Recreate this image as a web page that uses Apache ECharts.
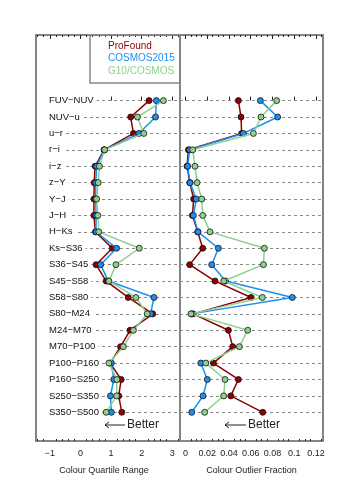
<!DOCTYPE html>
<html><head><meta charset="utf-8">
<script src="https://cdn.jsdelivr.net/npm/echarts@6/dist/echarts.min.js"></script>
<style>html,body{margin:0;padding:0;background:#fff}#c{width:360px;height:480px}</style>
</head><body><div id="c"></div>
<script>
const rowLabels = ['FUV\u2212NUV','NUV\u2212u','u\u2212r','r\u2212i','i\u2212z','z\u2212Y','Y\u2212J','J\u2212H','H\u2212Ks','Ks\u2212S36','S36\u2212S45','S45\u2212S58','S58\u2212S80','S80\u2212M24','M24\u2212M70','M70\u2212P100','P100\u2212P160','P160\u2212S250','S250\u2212S350','S350\u2212S500'];
const rowIdx = [0,1,2,3,4,5,6,7,8,9,10,11,12,13,14,15,16,17,18,19];

const seriesNames = ['ProFound','COSMOS2015','G10/COSMOS'];
const profoundQR = [2.24,1.64,1.73,0.77,0.48,0.45,0.44,0.44,0.49,1.04,0.51,0.84,1.56,2.36,1.62,1.31,0.97,1.33,1.25,1.35];
const cosmosQR   = [2.48,2.45,1.91,0.78,0.53,0.50,0.50,0.51,0.51,1.18,0.66,0.91,2.40,2.29,null,null,1.01,1.09,0.98,1.01];
const g10QR      = [2.71,1.86,2.07,0.79,0.62,0.58,0.53,0.57,0.60,1.92,1.16,0.93,1.81,2.18,1.73,1.40,0.93,1.19,1.18,0.84];

const profoundOF = [0.0487,0.0511,0.0517,0.0027,0.0015,0.0040,0.0076,0.0064,0.0113,0.0159,0.0039,0.0272,0.0603,0.0070,0.0395,0.0435,0.0257,0.0487,0.0417,0.0711];
const cosmosOF   = [0.0689,0.0848,0.0533,0.0039,0.0021,0.0042,0.0100,0.0073,0.0116,0.0303,0.0242,0.0370,0.0983,0.0055,null,null,0.0141,0.0201,0.0162,0.0058];
const g10OF      = [0.0839,0.0695,0.0625,0.0067,0.0088,0.0107,0.0150,0.0159,0.0226,0.0726,0.0717,0.0352,0.0707,0.0051,0.0573,0.0496,0.0187,0.0364,0.0352,0.0177];

const qrMajorTicks = [-1,0,1,2,3];
const qrMinorTicks = [-1.4,-1.2,-0.8,-0.6,-0.4,-0.2,0.2,0.4,0.6,0.8,1.2,1.4,1.6,1.8,2.2,2.4,2.6,2.8,3.2];
const ofMajorTicks = [0,0.02,0.04,0.06,0.08,0.1,0.12];
const ofMinorTicks = [0.005,0.01,0.015,0.025,0.03,0.035,0.045,0.05,0.055,0.065,0.07,0.075,0.085,0.09,0.095,0.105,0.11,0.115,0.125];

const colors = ['#8B0000','#1E8FF0','#8FD08F'];
const FONT = 'Liberation Sans';
const FRAME = '#858585';

function xAxes(grid, min, max, majors, minors, name, namePad) {
  const base = {gridIndex:grid, type:'value', min:min, max:max, axisLine:{show:false}, splitLine:{show:false}};
  return [
    Object.assign({}, base, {position:'bottom',
      axisTick:{show:true, inside:true, length:4, customValues:majors, lineStyle:{color:'#222', width:1}},
      axisLabel:{show:true, customValues:majors, margin:8, fontSize:9, color:'#222', fontFamily:FONT,
        formatter: v => String(v).replace('-', '\u2212')},
      name:name, nameLocation:'middle', nameGap:25,
      nameTextStyle:{fontSize:9, color:'#222', fontFamily:FONT, padding:namePad}}),
    Object.assign({}, base, {position:'bottom',
      axisTick:{show:true, inside:true, length:2, customValues:minors, lineStyle:{color:'#222', width:1}},
      axisLabel:{show:false}}),
    Object.assign({}, base, {position:'top',
      axisTick:{show:true, inside:true, length:4, customValues:majors, lineStyle:{color:'#222', width:1}},
      axisLabel:{show:false}}),
    Object.assign({}, base, {position:'top',
      axisTick:{show:true, inside:true, length:2, customValues:minors, lineStyle:{color:'#222', width:1}},
      axisLabel:{show:false}})
  ];
}

function yAxis(grid, labels) {
  return {gridIndex:grid, type:'value', min:-4, max:20.75, inverse:true, z:3,
    axisLine:{show:false}, axisTick:{show:false}, splitLine:{show:false},
    axisLabel: labels ? {show:true, inside:true, margin:1, customValues:rowIdx,
      formatter: v => rowLabels[v] || '', fontSize:9.5, color:'#111', fontFamily:FONT,
      backgroundColor:'#fff', padding:[2,3,2,12]} : {show:false}};
}

function dataSeries(name, vals, color, xi, yi, z) {
  return {name:name, type:'line', xAxisIndex:xi, yAxisIndex:yi, z:z,
    data: vals.map((v,i) => [v === null ? '-' : v, rowIdx[i]]),
    connectNulls:false, symbol:'circle', symbolSize:6, showSymbol:true,
    lineStyle:{color:color, width:1.5}, itemStyle:{color:color, borderColor:'#111', borderWidth:0.8},
    emphasis:{disabled:true}};
}

function guideSeries(xi, yi) {
  return {type:'line', xAxisIndex:xi, yAxisIndex:yi, data:[], z:1, silent:true,
    markLine:{silent:true, symbol:'none', z:1, label:{show:false},
      lineStyle:{color:'#8a8a8a', type:[3,3], width:1},
      data: rowIdx.map(i => ({yAxis:i}))}};
}

const chart = echarts.init(document.getElementById('c'), null, {renderer:'canvas'});
chart.setOption({
  animation:false,
  backgroundColor:'#ffffff',
  grid:[
    {left:36, top:35, width:144, height:406, show:true, borderColor:FRAME, borderWidth:2, backgroundColor:'transparent'},
    {left:180, top:35, width:143, height:406, show:true, borderColor:FRAME, borderWidth:2, backgroundColor:'transparent'}
  ],
  xAxis: xAxes(0, -1.45, 3.25, qrMajorTicks, qrMinorTicks, 'Colour Quartile Range', [0,8,0,0])
    .concat(xAxes(1, -0.005, 0.1265, ofMajorTicks, ofMinorTicks, 'Colour Outlier Fraction', [0,0,0,0])),
  yAxis:[yAxis(0, true), yAxis(1, false)],
  legend:{orient:'vertical', left:103, top:41, padding:0, itemWidth:0, itemHeight:10, itemGap:2.5,
    icon:'none', selectedMode:false,
    textStyle:{fontSize:10, fontFamily:FONT},
    data: seriesNames.map((n,i) => ({name:n, icon:'none', textStyle:{color:colors[i]}}))},
  graphic:[
    {type:'rect', shape:{x:90, y:35, width:90, height:48}, style:{fill:'none', stroke:FRAME, lineWidth:1.5}, z:10},
    {type:'polyline', shape:{points:[[125,425],[105,425]]}, style:{stroke:'#222', lineWidth:1}, z:10},
    {type:'polyline', shape:{points:[[109,422],[105,425],[109,428]]}, style:{stroke:'#222', fill:'none', lineWidth:1}, z:10},
    {type:'text', x:127, y:425, style:{text:'Better', fontSize:12, fontFamily:FONT, fill:'#222', verticalAlign:'middle'}, z:10},
    {type:'polyline', shape:{points:[[246,425],[225,425]]}, style:{stroke:'#222', lineWidth:1}, z:10},
    {type:'polyline', shape:{points:[[229,422],[225,425],[229,428]]}, style:{stroke:'#222', fill:'none', lineWidth:1}, z:10},
    {type:'text', x:248, y:425, style:{text:'Better', fontSize:12, fontFamily:FONT, fill:'#222', verticalAlign:'middle'}, z:10}
  ],
  series:[
    guideSeries(0, 0),
    guideSeries(4, 1),
    dataSeries('ProFound', profoundQR, colors[0], 0, 0, 5),
    dataSeries('COSMOS2015', cosmosQR, colors[1], 0, 0, 6),
    dataSeries('G10/COSMOS', g10QR, colors[2], 0, 0, 7),
    dataSeries('ProFound', profoundOF, colors[0], 4, 1, 5),
    dataSeries('COSMOS2015', cosmosOF, colors[1], 4, 1, 6),
    dataSeries('G10/COSMOS', g10OF, colors[2], 4, 1, 7)
  ]
});
</script></body></html>
